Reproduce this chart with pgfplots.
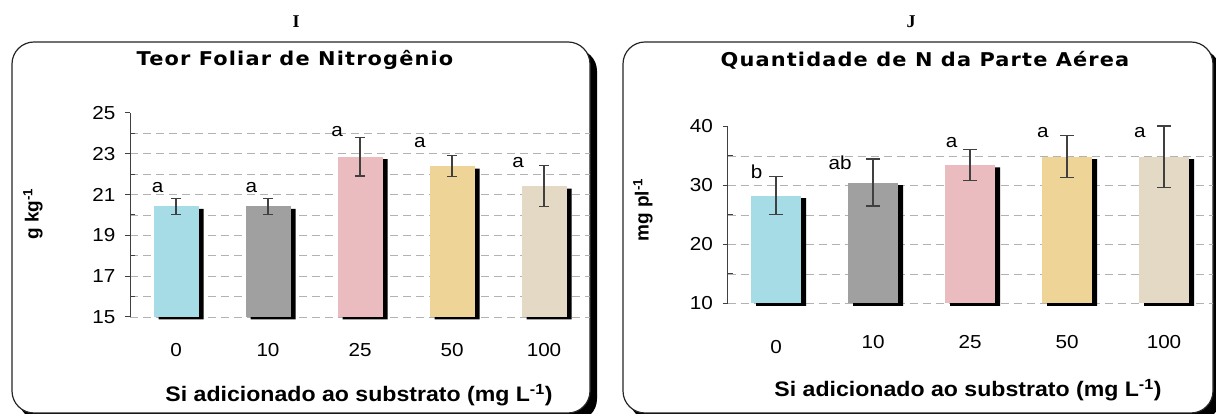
\documentclass[border=0pt]{standalone}
\usepackage{fontspec}
\setmainfont{Liberation Sans}[FakeStretch=1.1]
\newfontfamily\ylabfont{Liberation Sans}
\newfontfamily\titlefont{DejaVu Sans}[FakeStretch=1.1, LetterSpace=6]
\newfontfamily\romanfont{Liberation Serif}
\usepackage{pgfplots}
\pgfplotsset{compat=1.18}
\definecolor{c0}{HTML}{A6DCE6}
\definecolor{c1}{HTML}{A0A0A0}
\definecolor{c2}{HTML}{EABCBF}
\definecolor{c3}{HTML}{EFD498}
\definecolor{c4}{HTML}{E3D9C4}
\definecolor{axc}{HTML}{404040}
\pgfplotsset{
  panel/.style={
    scale only axis,
    xmin=-0.5, xmax=4.5,
    axis y line*=left, axis x line*=bottom,
    x axis line style={draw=none},
    xtick={0,...,4}, xtick style={draw=none},
    y axis line style={draw=axc, line width=1pt},
    ytick style={draw=axc, line width=1pt},
    tick align=outside, major tick length=5pt, minor tick length=-5pt,
    ymajorgrids, yminorgrids,
    extra y tick style={grid=none},
    major grid style={draw=black!30, line width=0.8pt, dash pattern=on 8pt off 5pt},
    minor grid style={draw=black!30, line width=0.8pt, dash pattern=on 8pt off 5pt},
    tick label style={font=\fontsize{18.8}{20}\selectfont},
    yticklabel style={xshift=-6pt},
    /pgf/number format/assume math mode=true,
    clip=false,
  },
  myshadow/.style={ybar, bar width=#1, bar shift=0pt, fill=black, draw=none, xshift=5pt, yshift=-2.5pt},
  mybar/.style 2 args={ybar, bar width=#1, bar shift=0pt, fill=#2, draw=none,
    error bars/.cd, y dir=both, y explicit,
    error bar style={line width=1.3pt, draw=axc},
    error mark options={rotate=90, mark size=\capsize, line width=1.3pt, draw=axc}},
  myletters/.style={draw=none, mark=none, nodes near coords, point meta=explicit symbolic,
    every node near coord/.append style={anchor=center, font=\fontsize{18.8}{20}\selectfont}},
}
\newcommand{\capsize}{5pt}
\begin{document}
\begin{tikzpicture}
\clip (0pt,0pt) rectangle (1216pt,414pt);
\fill[white] (0pt,0pt) rectangle (1216pt,414pt);
% frames
\fill[black, rounded corners=22pt] (19pt,-7pt) rectangle (597pt,365pt);
\filldraw[fill=white, draw=black!85, line width=1.2pt, rounded corners=22pt] (12pt,1pt) rectangle (590pt,372pt);
\fill[black, rounded corners=22pt] (630pt,-7pt) rectangle (1220pt,365pt);
\filldraw[fill=white, draw=black!85, line width=1.2pt, rounded corners=22pt] (623pt,1pt) rectangle (1213pt,372pt);

% ---------- Panel I ----------
\renewcommand{\capsize}{5pt}
\begin{axis}[panel, anchor=south west, at={(130pt,97pt)}, width=460pt, height=204pt,
  ymin=15, ymax=25, ytick={15,17,19,21,23}, extra y ticks={25},
  minor ytick={16,18,20,22,24},
  xticklabels={0,10,25,50,100},
  xticklabel style={yshift=-18pt}]
\addplot[myshadow=45pt] coordinates {(0,20.42) (1,20.42) (2,22.86) (3,22.40) (4,21.42)};
\addplot[mybar={45pt}{c0}] coordinates {(0,20.42) +- (0,0.40)};
\addplot[mybar={45pt}{c1}] coordinates {(1,20.42) +- (0,0.40)};
\addplot[mybar={45pt}{c2}] coordinates {(2,22.86) +- (0,0.95)};
\addplot[mybar={45pt}{c3}] coordinates {(3,22.40) +- (0,0.50)};
\addplot[mybar={45pt}{c4}] coordinates {(4,21.42) +- (0,1.02)};
\addplot[myletters] coordinates {(-0.20,21.37) [a] (0.82,21.37) [a] (1.75,24.07) [a] (2.65,23.54) [a] (3.72,22.56) [a]};
\end{axis}

% ---------- Panel J ----------
\renewcommand{\capsize}{7pt}
\begin{axis}[panel, anchor=south west, at={(727.5pt,110.5pt)}, width=485pt, height=177pt,
  ymin=10, ymax=40, ytick={10,20,30}, extra y ticks={40},
  minor ytick={15,25,35},
  xticklabels={\rule{0pt}{18.5pt}0,10,25,50,100},
  xticklabel style={yshift=-23pt}]
\addplot[myshadow=50pt] coordinates {(0,28.3) (1,30.5) (2,33.5) (3,34.9) (4,34.9)};
\addplot[mybar={50pt}{c0}] coordinates {(0,28.3) +- (0,3.2)};
\addplot[mybar={50pt}{c1}] coordinates {(1,30.5) +- (0,4.0)};
\addplot[mybar={50pt}{c2}] coordinates {(2,33.5) +- (0,2.65)};
\addplot[mybar={50pt}{c3}] coordinates {(3,34.9) +- (0,3.6)};
\addplot[mybar={50pt}{c4}] coordinates {(4,34.9) +- (0,5.2)};
\addplot[myletters] coordinates {(-0.20,32.3) [b] (0.66,33.8) [ab] (1.81,37.2) [a] (2.75,38.95) [a] (3.75,38.95) [a]};
\end{axis}

% titles and labels
\node[font=\romanfont\bfseries\fontsize{18}{20}\selectfont] at (296pt,392pt) {I};
\node[font=\romanfont\bfseries\fontsize{18}{20}\selectfont] at (911pt,392pt) {J};
\node[font=\titlefont\bfseries\fontsize{19}{20}\selectfont] at (295pt,354pt) {Teor Foliar de Nitrogênio};
\node[font=\titlefont\bfseries\fontsize{19}{20}\selectfont] at (925pt,354pt) {Quantidade de N da Parte Aérea};
\node[font=\bfseries\fontsize{21}{22}\selectfont] at (359pt,19pt) {Si adicionado ao substrato (mg L\textsuperscript{-1})};
\node[font=\bfseries\fontsize{21}{22}\selectfont] at (968pt,24pt) {Si adicionado ao substrato (mg L\textsuperscript{-1})};
\node[rotate=90, font=\ylabfont\bfseries\fontsize{19}{20}\selectfont] at (33pt,200pt) {g kg\textsuperscript{-1}};
\node[rotate=90, font=\ylabfont\bfseries\fontsize{19}{20}\selectfont] at (643pt,204pt) {mg pl\textsuperscript{-1}};
\end{tikzpicture}
\end{document}
